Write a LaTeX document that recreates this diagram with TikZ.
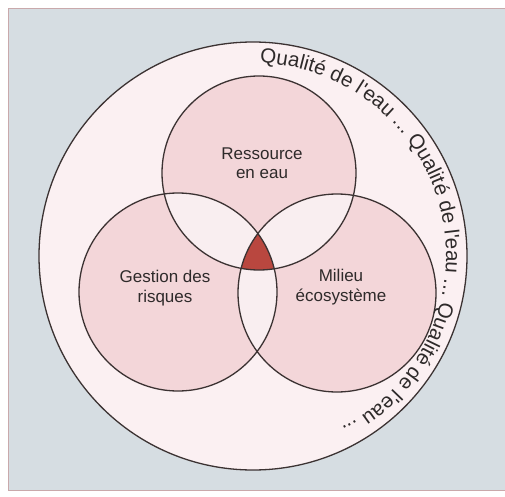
\documentclass[tikz,border=0pt]{standalone}
\usepackage{fontspec}
\setmainfont{Liberation Sans}
\newfontfamily\labfont{Liberation Sans}
\usetikzlibrary{decorations.text,calc}
\definecolor{bggray}{HTML}{D6DDE2}
\definecolor{framecol}{HTML}{C9A9AB}
\definecolor{outerfill}{HTML}{FBF0F2}
\definecolor{pinkfill}{HTML}{F3D6D9}
\definecolor{lightfill}{HTML}{F9EEF0}
\definecolor{redfill}{HTML}{B9473F}
\definecolor{linecol}{HTML}{3B3232}
\definecolor{textcol}{HTML}{2E2A2A}
\tikzset{
  ring/.style={draw=linecol, line width=1.3pt},
  venntext/.style={text=textcol, align=center, font=\labfont\fontsize{17}{19.5}\selectfont},
}
\begin{document}
\begin{tikzpicture}[x=1pt,y=1pt]
\useasboundingbox (0,0) rectangle (505,496);
% background panel
\fill[bggray] (8,6) rectangle (506,488);
\draw[framecol, line width=0.8pt] (506,488) -- (8,488) -- (8,6) -- (506,6);
% named centres
\coordinate (O) at (253,240);
\coordinate (T) at (259,323);
\coordinate (L) at (178,204);
\coordinate (R) at (337,203);
\coordinate (S) at ($(O)+(88:193)$);
% outer circle
\fill[outerfill] (O) circle (214);
% three circles
\fill[pinkfill] (T) circle (97);
\fill[pinkfill] (L) circle (99);
\fill[pinkfill] (R) circle (99);
% pairwise intersections
\begin{scope}
  \clip (T) circle (97);
  \fill[lightfill] (L) circle (99);
  \fill[lightfill] (R) circle (99);
\end{scope}
\begin{scope}
  \clip (L) circle (99);
  \fill[lightfill] (R) circle (99);
\end{scope}
% triple intersection
\begin{scope}
  \clip (T) circle (97);
  \clip (L) circle (99);
  \fill[redfill] (R) circle (99);
\end{scope}
% outlines
\draw[ring] (O) circle (214);
\draw[ring] (T) circle (97);
\draw[ring] (L) circle (99);
\draw[ring] (R) circle (99);
% labels
\node[venntext] (res) at (262,333) {Ressource\\en eau};
\node[venntext] (ges) at (165,208) {Gestion des\\risques};
\node[venntext] (mil) at (341,209) {Milieu\\écosystème};
% curved text
\path[decorate, decoration={text along path, text align=left,
  text={|\labfont\fontsize{20.6}{24}\selectfont\color{textcol}|Qualité de l'eau ... Qualité de l'eau ... Qualité de l'eau ...}}]
  (S) arc[start angle=88, end angle=-75, radius=193];
\end{tikzpicture}
\end{document}
